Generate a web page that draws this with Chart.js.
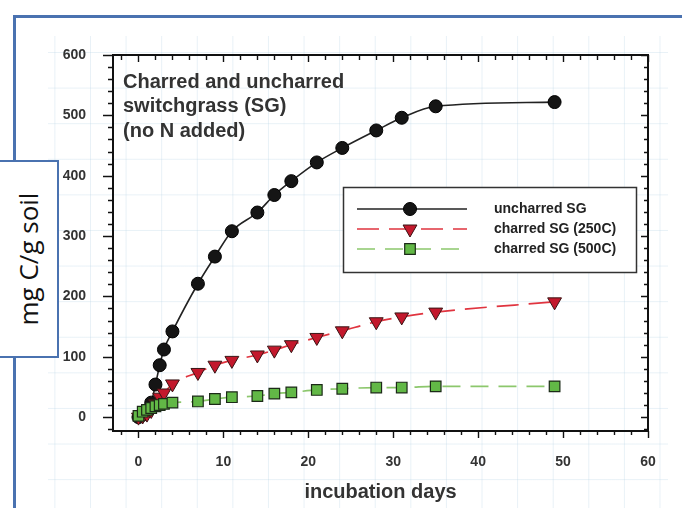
<!DOCTYPE html>
<html>
<head>
<meta charset="utf-8">
<script src="https://cdn.jsdelivr.net/npm/chart.js@4.4.0/dist/chart.umd.min.js"></script>
<style>
  html, body { margin: 0; padding: 0; background: #fff; }
  #slide { position: relative; width: 682px; height: 508px; overflow: hidden; background: #fff; }
  /* faint grid paper behind the figure */
  #paper {
    position: absolute; left: 48px; top: 36px; width: 620px; height: 472px;
    background-image:
      linear-gradient(to right, rgba(185, 212, 230, 0.32) 1px, transparent 1px),
      linear-gradient(to bottom, rgba(185, 212, 230, 0.32) 1px, transparent 1px);
    background-size: 35.6px 35.6px;
    background-position: 6.4px 16px;
  }
  .bar { position: absolute; background: #4a72b0; }
  #ybox {
    position: absolute; left: -3px; top: 160px; width: 58px; height: 194px;
    border: 2px solid #4a72b0; background: #fff;
  }
  #ybox span {
    position: absolute; left: 50%; top: 50%;
    transform: translate(-50%, -50%) rotate(-90deg);
    white-space: nowrap; font-family: "Open Sans", "Noto Sans", sans-serif;
    font-size: 26px; color: #111;
  }
  #c { position: absolute; left: 0; top: 0; }
</style>
</head>
<body>
<div id="slide">
  <div id="paper"></div>
  <div class="bar" style="left:14px; top:15px; width:668px; height:3px;"></div>
  <div class="bar" style="left:13px; top:15px; width:3px; height:148px;"></div>
  <div class="bar" style="left:13px; top:354px; width:3px; height:154px;"></div>
  <div id="ybox"><span>mg C/g soil</span></div>
  <canvas id="c" width="682" height="508"></canvas>
</div>
<script>
// Inkubationsdagar och uppmätt kol (mg C/g jord) för varje behandling.
const days = [0, 0.5, 1, 1.5, 2, 2.5, 3, 4, 7, 9, 11, 14, 16, 18, 21, 24, 28, 31, 35, 49];
const uncharred = [0, 4, 10, 24, 54, 86, 112, 142, 221, 266, 308, 339, 368, 391, 422, 446, 475, 496, 515, 522];
const charred250 = [0, 2, 5, 11, 22, 33, 40, 55, 74, 86, 94, 103, 111, 120, 132, 143, 158, 166, 174, 191];
const charred500 = [2, 9, 12, 15, 18, 20, 22, 24, 26, 30, 33, 35, 39, 41, 45, 47, 49, 49, 51, 51];

const seriesLabels = ['uncharred SG', 'charred SG (250C)', 'charred SG (500C)'];
const noteLines = ['Charred and uncharred', 'switchgrass (SG)', '(no N added)'];
const xTitle = 'incubation days';

const fontFamily = '"Liberation Sans", Arial, Helvetica, sans-serif';

function toPoints(values) {
  return days.map((d, i) => ({ x: d, y: values[i] }));
}

// Ram runt ritytan med tickmarkeringar (långa vid huvudsteg, korta däremellan).
const framePlugin = {
  id: 'frame',
  beforeDatasetsDraw(chart) {
    const { ctx, chartArea: a, scales: { x, y } } = chart;
    ctx.save();
    ctx.strokeStyle = '#111';
    ctx.lineWidth = 2;
    ctx.strokeRect(a.left, a.top, a.right - a.left, a.bottom - a.top);
    ctx.lineWidth = 1.4;
    ctx.beginPath();
    for (let v = Math.ceil(x.min / 2) * 2; v <= x.max; v += 2) {
      const px = Math.round(x.getPixelForValue(v)) + 0.5;
      const major = v % 10 === 0;
      ctx.moveTo(px, a.bottom);
      ctx.lineTo(px, a.bottom + (major ? 7 : 4));
      ctx.moveTo(px, a.top);
      ctx.lineTo(px, a.top + (major ? 7 : 5));
    }
    for (let v = Math.ceil(y.min / 20) * 20; v <= y.max; v += 20) {
      const py = Math.round(y.getPixelForValue(v)) + 0.5;
      const major = v % 100 === 0;
      ctx.moveTo(a.left, py);
      ctx.lineTo(a.left - (major ? 10 : 5), py);
      ctx.moveTo(a.right, py);
      ctx.lineTo(a.right - (major ? 7 : 4), py);
    }
    ctx.stroke();
    ctx.restore();
  }
};

// Textruta uppe till vänster och förklaringsrutan.
const notesPlugin = {
  id: 'notes',
  afterDraw(chart) {
    const { ctx, chartArea: a } = chart;
    ctx.save();
    ctx.fillStyle = '#333';
    ctx.font = 'bold 20px ' + fontFamily;
    ctx.textBaseline = 'middle';
    noteLines.forEach((t, i) => ctx.fillText(t, a.left + 10, a.top + 27 + i * 24.5));

    const bx = a.left + 230, by = a.top + 132, bw = 293, bh = 85;
    ctx.fillStyle = '#fff';
    ctx.fillRect(bx, by, bw, bh);
    ctx.strokeStyle = '#333';
    ctx.lineWidth = 1.5;
    ctx.strokeRect(bx + 0.5, by + 0.5, bw, bh);

    chart.data.datasets.forEach((ds, i) => {
      const ly = by + 22 + i * 20;
      ctx.save();
      ctx.strokeStyle = ds.borderColor;
      ctx.lineWidth = ds.borderWidth;
      ctx.setLineDash(ds.borderDash || []);
      ctx.beginPath();
      ctx.moveTo(bx + 14, ly);
      ctx.lineTo(bx + 124, ly);
      ctx.stroke();
      ctx.setLineDash([]);
      ctx.fillStyle = ds.pointBackgroundColor;
      ctx.strokeStyle = ds.pointBorderColor;
      ctx.lineWidth = ds.pointBorderWidth;
      Chart.helpers.drawPoint(ctx, {
        pointStyle: ds.pointStyle,
        rotation: ds.pointRotation || 0,
        radius: ds.pointRadius,
        borderWidth: ds.pointBorderWidth
      }, bx + 67, ly);
      ctx.restore();
      ctx.fillStyle = '#222';
      ctx.font = 'bold 14px ' + fontFamily;
      ctx.fillText(ds.label, bx + 151, ly);
    });
    ctx.restore();
  }
};

new Chart(document.getElementById('c'), {
  type: 'line',
  data: {
    datasets: [{
      label: seriesLabels[0],
      data: toPoints(uncharred),
      borderColor: '#222',
      borderWidth: 1.6,
      cubicInterpolationMode: 'monotone',
      pointStyle: 'circle',
      pointRadius: 6.5,
      pointBackgroundColor: '#151515',
      pointBorderColor: '#000',
      pointBorderWidth: 1,
      order: 3
    }, {
      label: seriesLabels[1],
      data: toPoints(charred250),
      borderColor: '#e0343f',
      borderWidth: 1.7,
      borderDash: [22, 10],
      cubicInterpolationMode: 'monotone',
      pointStyle: 'triangle',
      pointRotation: 180,
      pointRadius: 8,
      pointBackgroundColor: '#c3182c',
      pointBorderColor: '#3a1515',
      pointBorderWidth: 1,
      order: 2
    }, {
      label: seriesLabels[2],
      data: toPoints(charred500),
      borderColor: '#8cc76c',
      borderWidth: 1.7,
      borderDash: [18, 10],
      cubicInterpolationMode: 'monotone',
      pointStyle: 'rect',
      pointRadius: 7.5,
      pointBackgroundColor: '#62b846',
      pointBorderColor: '#1c2a18',
      pointBorderWidth: 1.2,
      order: 1
    }]
  },
  options: {
    responsive: false,
    animation: false,
    layout: { padding: { top: 55, right: 34, left: 0, bottom: 0 } },
    plugins: { legend: { display: false }, tooltip: { enabled: false } },
    scales: {
      x: {
        type: 'linear',
        min: -3,
        max: 60,
        grid: { display: false },
        border: { display: false },
        ticks: {
          stepSize: 10,
          includeBounds: false,
          padding: 15,
          color: '#333',
          font: { family: fontFamily, size: 14, weight: 'bold' }
        },
        title: {
          display: true,
          text: xTitle,
          color: '#333',
          font: { family: fontFamily, size: 20, weight: 'bold' },
          padding: { top: 0, bottom: 4 }
        },
        afterFit(scale) { scale.height = 77; }
      },
      y: {
        min: -23,
        max: 600,
        grid: { display: false },
        border: { display: false },
        ticks: {
          stepSize: 100,
          includeBounds: false,
          padding: 19,
          color: '#333',
          font: { family: fontFamily, size: 14, weight: 'bold' }
        },
        afterFit(scale) { scale.width = 113; }
      }
    }
  },
  plugins: [framePlugin, notesPlugin]
});
</script>
</body>
</html>
